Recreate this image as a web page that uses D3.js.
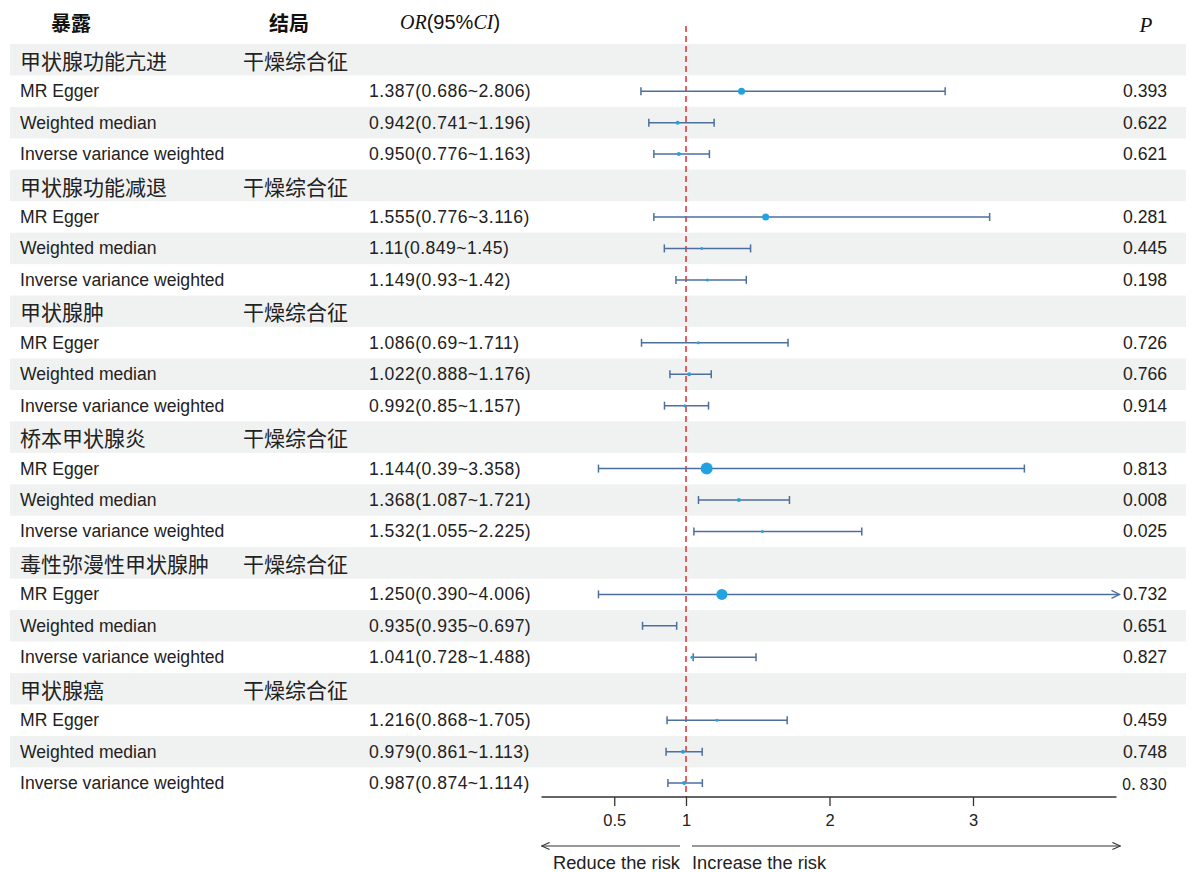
<!DOCTYPE html>
<html><head><meta charset="utf-8">
<script src="https://cdn.jsdelivr.net/npm/d3@7"></script>
<style>html,body{margin:0;padding:0;background:#fff;}</style>
</head><body>
<svg id="chart" width="1194" height="872"></svg>
<script>
// ---------- data ----------
const exposures = ["甲状腺功能亢进","甲状腺功能减退","甲状腺肿","桥本甲状腺炎","毒性弥漫性甲状腺肿","甲状腺癌"];
const outcome = "干燥综合征";
const methods = ["MR Egger","Weighted median","Inverse variance weighted"];
const orLabels = [
  "1.387(0.686~2.806)","0.942(0.741~1.196)","0.950(0.776~1.163)",
  "1.555(0.776~3.116)","1.11(0.849~1.45)","1.149(0.93~1.42)",
  "1.086(0.69~1.711)","1.022(0.888~1.176)","0.992(0.85~1.157)",
  "1.144(0.39~3.358)","1.368(1.087~1.721)","1.532(1.055~2.225)",
  "1.250(0.390~4.006)","0.935(0.935~0.697)","1.041(0.728~1.488)",
  "1.216(0.868~1.705)","0.979(0.861~1.113)","0.987(0.874~1.114)"
];
const estimates = [1.387,0.942,0.950, 1.555,1.11,1.149, 1.086,1.022,0.992, 1.144,1.368,1.532, 1.250,0.935,1.041, 1.216,0.979,0.987];
// CI bounds as drawn in the picture
const lowers = [0.686,0.741,0.776, 0.776,0.849,0.93, 0.69,0.888,0.85, 0.39,1.087,1.055, 0.390,0.697,1.05, 0.868,0.861,0.874];
const uppers = [2.806,1.196,1.163, 3.116,1.45,1.42, 1.711,1.176,1.157, 3.358,1.721,2.225, 4.006,0.935,1.488, 1.705,1.113,1.114];
const pLabels = ["0.393","0.622","0.621", "0.281","0.445","0.198", "0.726","0.766","0.914", "0.813","0.008","0.025", "0.732","0.651","0.827", "0.459","0.748","0. 830"];
const markerSizes = [3.5,2,2, 3.5,1.5,1.5, 1.5,2,1.5, 6,2,1.5, 5.5,0,1.5, 1.5,2,2];
const axisTicks = [0.5,1,2,3];
const axisDomain = [0,4];

// ---------- build rows ----------
const rows = [];
exposures.forEach((e,gi)=>{
  rows.push({type:"group", exposure:e, outcome:outcome});
  methods.forEach((m,mi)=>{
    const k = gi*3+mi;
    rows.push({type:"method", method:m, label:orLabels[k], est:estimates[k], lo:lowers[k], hi:uppers[k], p:pLabels[k], size:markerSizes[k], special: pLabels[k].includes(" ")});
  });
});

const svg = d3.select("#chart");
const y = d3.scaleBand().domain(d3.range(rows.length)).range([44, 44 + rows.length*31.45]).padding(0);
const x = d3.scaleLinear().domain(axisDomain).range([542.5, 1116.5]);

const txtColor = "#222";
const sansFont = "'Liberation Sans', Arial, sans-serif";
const cjkFont = "'Noto Sans CJK SC', sans-serif";

// stripes
svg.append("g").selectAll("rect").data(rows.map((r,i)=>i).filter(i=>i%2===0)).join("rect")
  .attr("x",10).attr("width",1176).attr("y",i=>y(i)).attr("height",y.bandwidth())
  .attr("fill","#f0f1f1");

// header
const hy = 22;
svg.append("text").attr("x",71).attr("y",hy).attr("text-anchor","middle").attr("dominant-baseline","central")
  .attr("font-family",cjkFont).attr("font-size",20).attr("font-weight","bold").attr("fill","#111").text("暴露");
svg.append("text").attr("x",289).attr("y",hy).attr("text-anchor","middle").attr("dominant-baseline","central")
  .attr("font-family",cjkFont).attr("font-size",20).attr("font-weight","bold").attr("fill","#111").text("结局");
const orH = svg.append("text").attr("x",400).attr("y",hy).attr("dominant-baseline","central")
  .attr("font-size",20).attr("fill","#111");
orH.append("tspan").attr("font-family","'Liberation Serif', serif").attr("font-style","italic").text("OR");
orH.append("tspan").attr("font-family","'Liberation Sans Narrow', 'Liberation Sans', sans-serif").text("(95%");
orH.append("tspan").attr("font-family","'Liberation Serif', serif").attr("font-style","italic").text("CI");
orH.append("tspan").attr("font-family","'Liberation Sans Narrow', 'Liberation Sans', sans-serif").text(")");
svg.append("text").attr("x",1146).attr("y",hy+3).attr("text-anchor","middle").attr("dominant-baseline","central")
  .attr("font-family","'Liberation Serif', serif").attr("font-style","italic").attr("font-size",21).attr("fill","#111").text("P");

// row texts
const rowG = svg.append("g").selectAll("g").data(rows).join("g")
  .attr("transform",(d,i)=>`translate(0,${y(i)+y.bandwidth()/2})`);
rowG.filter(d=>d.type==="group").each(function(d){
  const g = d3.select(this);
  g.append("text").attr("x",20).attr("dominant-baseline","central").attr("font-family",cjkFont)
    .attr("font-size",21).attr("fill",txtColor).text(d.exposure);
  g.append("text").attr("x",243).attr("dominant-baseline","central").attr("font-family",cjkFont)
    .attr("font-size",21).attr("fill",txtColor).text(d.outcome);
});
rowG.filter(d=>d.type==="method").each(function(d){
  const g = d3.select(this);
  g.append("text").attr("x",20).attr("dominant-baseline","central").attr("font-family",sansFont)
    .attr("font-size",17.6).attr("fill",txtColor).text(d.method);
  g.append("text").attr("x",369).attr("dominant-baseline","central").attr("font-family",sansFont)
    .attr("font-size",17.6).attr("letter-spacing",0.45).attr("fill",txtColor).text(d.label);
  g.append("text").attr("x",1167).attr("text-anchor","end").attr("dominant-baseline","central")
    .attr("font-family", d.special ? cjkFont : sansFont)
    .attr("font-size", d.special ? 16.5 : 17.6).attr("fill",txtColor)
    .attr("xml:space","preserve").style("white-space","pre").text(d.p);
});

// red reference line
svg.append("line").attr("x1",x(1)).attr("x2",x(1)).attr("y1",26).attr("y2",797)
  .attr("stroke","#e8383d").attr("stroke-width",1.6).attr("stroke-dasharray","6,4");

// CI lines
const ciColor = "#4d6f9e";
const ptColor = "#22a3e0";
const [dmin,dmax] = axisDomain;
const ciG = svg.append("g");
rows.forEach((d,i)=>{
  if(d.type!=="method") return;
  const cy = y(i)+y.bandwidth()/2;
  const lo = Math.min(d.lo,d.hi), hi = Math.max(d.lo,d.hi);
  const over = hi > dmax;
  const x1 = x(Math.max(lo,dmin)), x2 = over ? x(dmax)+3 : x(hi);
  ciG.append("line").attr("x1",x1).attr("x2",x2).attr("y1",cy).attr("y2",cy)
    .attr("stroke",ciColor).attr("stroke-width",1.5);
  ciG.append("line").attr("x1",x1).attr("x2",x1).attr("y1",cy-4).attr("y2",cy+4)
    .attr("stroke",ciColor).attr("stroke-width",1.5);
  if(over){
    ciG.append("path").attr("d",`M${x2-8},${cy-4}L${x2},${cy}L${x2-8},${cy+4}`)
      .attr("fill","none").attr("stroke",ciColor).attr("stroke-width",1.3);
  } else {
    ciG.append("line").attr("x1",x2).attr("x2",x2).attr("y1",cy-4).attr("y2",cy+4)
      .attr("stroke",ciColor).attr("stroke-width",1.5);
  }
  if(d.size>0){
    ciG.append("circle").attr("cx",x(d.est)).attr("cy",cy).attr("r",d.size).attr("fill",ptColor);
  }
});

// axis
const axisY = 797;
const axisG = svg.append("g").attr("transform",`translate(0,${axisY})`);
axisG.append("line").attr("x1",x(dmin)-1).attr("x2",x(dmax)).attr("stroke","#333").attr("stroke-width",1.3);
const ax = d3.axisBottom(x).tickValues(axisTicks).tickFormat(d3.format("~g")).tickSize(9).tickPadding(8);
const axSel = axisG.append("g").call(ax);
axSel.select(".domain").remove();
axSel.selectAll(".tick line").attr("stroke","#333").attr("stroke-width",1.3);
axSel.selectAll(".tick text").attr("font-family",sansFont).attr("font-size",16.5).attr("fill","#222");

// direction arrows
const arrY = 846;
const defs = svg.append("defs");
defs.append("marker").attr("id","arr").attr("viewBox","0 0 10 10").attr("refX",9).attr("refY",5)
  .attr("markerWidth",9).attr("markerHeight",9).attr("markerUnits","userSpaceOnUse").attr("orient","auto")
  .append("path").attr("d","M0,1L9,5L0,9").attr("fill","none").attr("stroke","#333").attr("stroke-width",1.2);
svg.append("line").attr("x1",x(1)-6).attr("x2",x(dmin)-1).attr("y1",arrY).attr("y2",arrY)
  .attr("stroke","#333").attr("stroke-width",1.1).attr("marker-end","url(#arr)");
svg.append("line").attr("x1",x(1)+6).attr("x2",x(dmax)+4).attr("y1",arrY).attr("y2",arrY)
  .attr("stroke","#333").attr("stroke-width",1.1).attr("marker-end","url(#arr)");
svg.append("text").attr("x",x(1)-6).attr("y",862).attr("text-anchor","end").attr("dominant-baseline","central")
  .attr("font-family",sansFont).attr("font-size",18.3).attr("fill","#222").text("Reduce the risk");
svg.append("text").attr("x",x(1)+6).attr("y",862).attr("dominant-baseline","central")
  .attr("font-family",sansFont).attr("font-size",18.3).attr("fill","#222").text("Increase the risk");
</script>
</body></html>
